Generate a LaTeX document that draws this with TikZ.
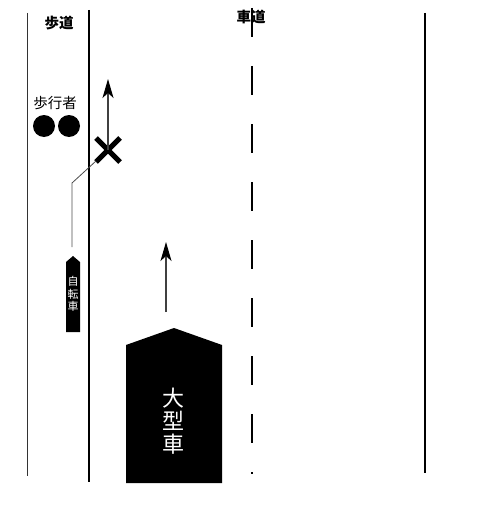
\documentclass[tikz,border=0pt]{standalone}
\usepackage{fontspec}
\newfontfamily\jp{Noto Sans CJK JP}
\usetikzlibrary{arrows.meta,shapes.misc}
\tikzset{
	edge/.style={line width=#1},
	edge/.default=1.6pt,
	centerline/.style={line width=1.6pt,dash pattern=on 29pt off 29pt},
	heading/.style={font=\jp\bfseries\fontsize{14.5}{14.5}\selectfont,inner sep=0pt},
	label/.style={font=\jp\fontsize{14.5}{14.5}\selectfont,inner sep=0pt},
	walker/.style={circle,fill,inner sep=0pt,minimum size=22pt},
	vehicle/.style={fill=black},
	vtext/.style 2 args={text=white,align=center,inner sep=0pt,font=\jp\fontsize{#1}{#2}\selectfont},
	move/.style={line width=1.2pt,black!75,-{Stealth[length=19pt,width=11pt,inset=5pt,black]}},
	track/.style={line width=0.8pt,black!70},
	crash/.style={cross out,draw,line width=5pt,minimum size=24pt,inner sep=0pt,outer sep=0pt}
}
\begin{document}
\begin{tikzpicture}[x=1pt,y=-1pt]
	\useasboundingbox (0,0) rectangle (480,511);

	% sidewalk and road
	\draw[edge=0.9pt,black!80] (27.5,13) -- (27.5,476);
	\draw[edge] (89,10) -- (89,482);
	\draw[edge] (425,13) -- (425,473);
	\node[heading] (walkway) at (59,23) {歩道};
	\node[heading] (roadway) at (251,17) {車道};
	\draw[centerline] (252,8) -- (252,474);

	% pedestrians
	\node[label] (pedlabel) at (55,103) {歩行者};
	\node[walker] (p1) at (44,126) {};
	\node[walker] (p2) at (69,126) {};

	% bicycle
	\fill[vehicle] (66,262) -- (73,256) -- (80,262) -- (80,332) -- (66,332) -- cycle;
	\node[vtext={11}{12.7}] (bike) at (73,294) {自\\転\\車};
	\coordinate (bikefront) at (72,247);
	\coordinate (bikecorner) at (72,183);
	\node[crash] (cross) at (108,150) {};
	\coordinate (biketip) at (108,79);
	\draw[track] (bikefront) -- (bikecorner) -- (cross);
	\draw[move] (cross.center) -- (biketip);

	% truck
	\fill[vehicle] (126,345) -- (174,328) -- (222,345) -- (222,483) -- (126,483) -- cycle;
	\node[vtext={22}{23}] (truck) at (173,421) {大\\型\\車};
	\coordinate (truckfront) at (166,312);
	\coordinate (trucktip) at (166,242);
	\draw[move] (truckfront) -- (trucktip);
\end{tikzpicture}
\end{document}
